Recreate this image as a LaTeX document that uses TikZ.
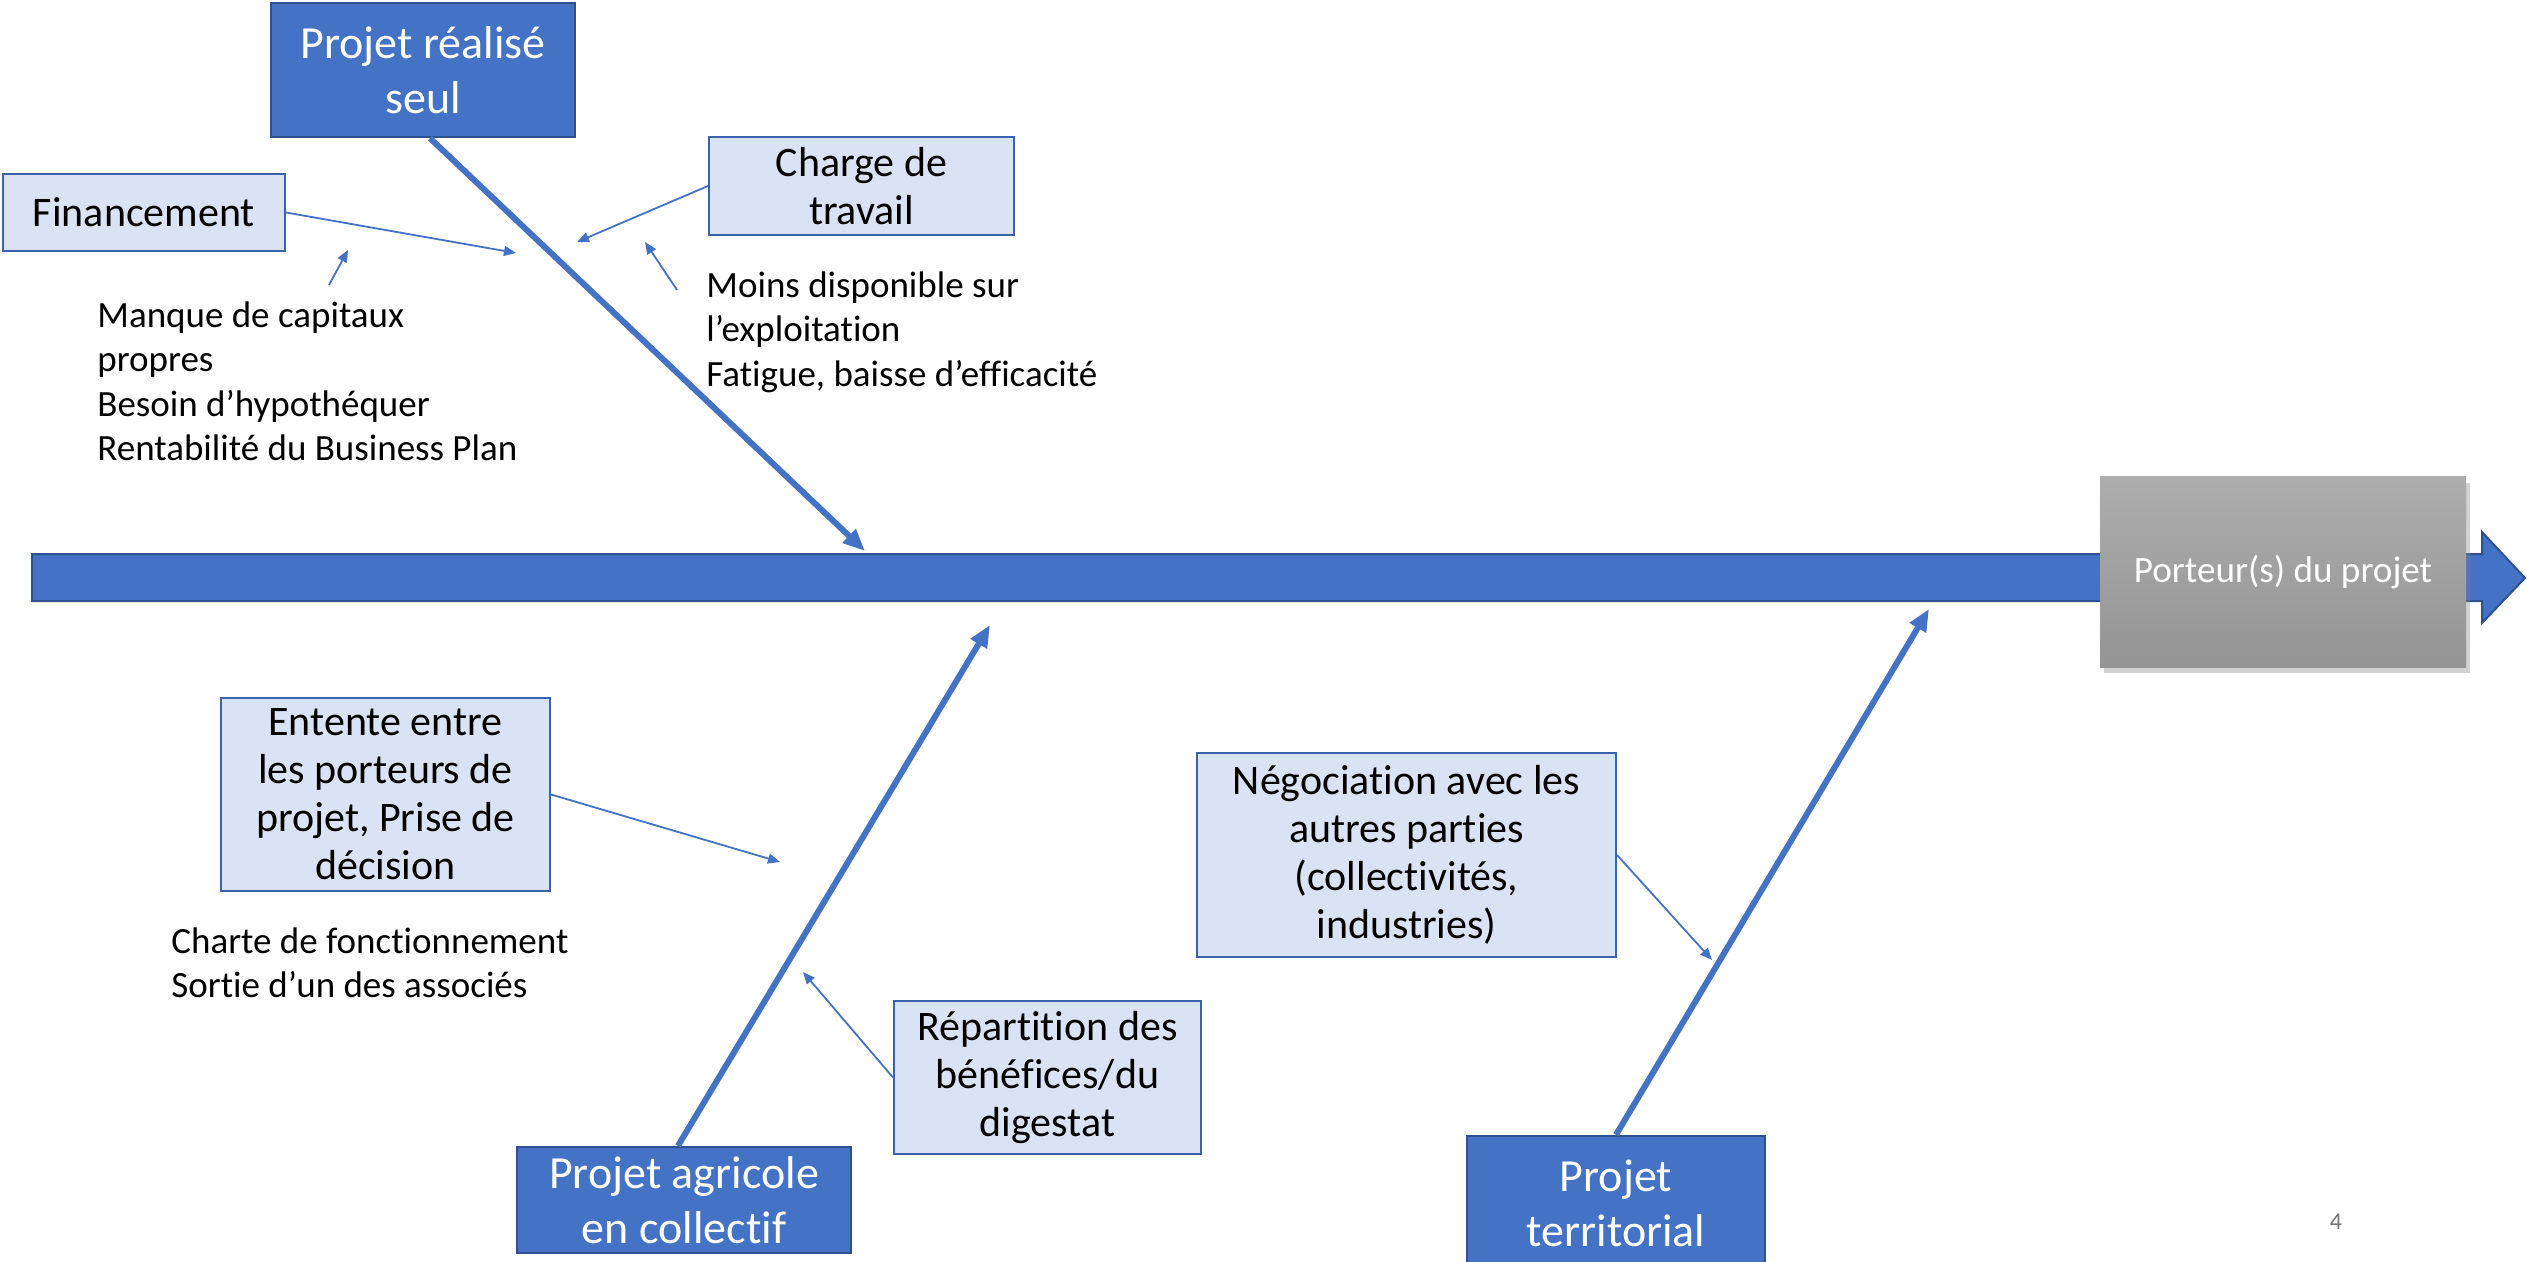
\documentclass[tikz,border=0pt]{standalone}
\usepackage{fontspec}
\setmainfont{Carlito}[Ligatures=NoCommon]
\usetikzlibrary{arrows.meta,shadows,calc}
\definecolor{mblue}{HTML}{4472C4}
\definecolor{dblue}{HTML}{2F528F}
\definecolor{lblue}{HTML}{DAE3F3}
\definecolor{lborder}{HTML}{3A62AE}
\begin{document}
\begin{tikzpicture}[x=0.5pt,y=-0.5pt,
  cause/.style={draw=dblue, line width=1.2pt, fill=mblue, text=white, font=\fontsize{23}{27.5}\selectfont, align=center, inner sep=0pt},
  sub/.style={draw=lborder, line width=1pt, fill=lblue, text=black, font=\fontsize{21}{24}\selectfont, align=center, inner sep=0pt},
  note/.style={font=\fontsize{18.5}{22.3}\selectfont, align=left, inner sep=0pt, anchor=north west},
  bone/.style={draw=mblue, line width=3pt, -{Triangle[length=11pt,width=9pt]}},
  twig/.style={draw=mblue, line width=0.9pt, -{Triangle[length=6pt,width=5pt]}}]
\clip (0,0) rectangle (2527,1262);
\fill[white] (0,0) rectangle (2527,1262);

% spine
\filldraw[fill=mblue, draw=dblue, line width=1pt]
  (32,554) -- (2482,554) -- (2482,532) -- (2525,578) -- (2482,623) -- (2482,601) -- (32,601) -- cycle;

% effect box
\node[shading=axis, top color=black!32, bottom color=black!42, draw=none,
      drop shadow={opacity=0.35, shadow xshift=2pt, shadow yshift=-3pt},
      minimum width=183pt, minimum height=95pt, inner sep=0pt,
      text=white, font=\fontsize{18.6}{22}\selectfont] (eff) at (2283,572) {Porteur(s) du projet};

% main causes
\node[cause, minimum width=152pt, minimum height=67pt] (seul) at (423,70) {Projet réalisé\\seul};
\node[cause, minimum width=167pt, minimum height=53pt] (agri) at (684,1200) {Projet agricole\\en collectif};
\node[cause, minimum width=149pt, minimum height=67pt] (terr) at (1616,1203) {Projet\\territorial};

% sub causes
\node[sub, minimum width=141pt, minimum height=38.5pt] (fin) at (144,212.5) {Financement};
\node[sub, minimum width=152.5pt, minimum height=49pt] (charge) at (861.5,186) {Charge de\\travail};
\node[sub, minimum width=164.5pt, minimum height=96.5pt] (entente) at (385.5,794.5) {Entente entre\\les porteurs de\\projet, Prise de\\décision};
\node[sub, minimum width=153.5pt, minimum height=76.5pt] (repart) at (1047.5,1077.5) {Répartition des\\bénéfices/du\\digestat};
\node[sub, minimum width=209.5pt, minimum height=102pt] (nego) at (1406.5,855) {Négociation avec les\\autres parties\\(collectivités,\\industries)};

% notes
\node[note] (n1) at (97,301) {Manque de capitaux\\propres\\Besoin d’hypothéquer\\Rentabilité du Business Plan};
\node[note] (n2) at (706,271) {Moins disponible sur\\l’exploitation\\Fatigue, baisse d’efficacité};
\node[note] (n3) at (171,927) {Charte de fonctionnement\\Sortie d’un des associés};
\node[text=black!55, font=\fontsize{12}{14}\selectfont, inner sep=0pt] (pg) at (2336,1222) {4};

% coordinates
\coordinate (e1) at (865,551);
\coordinate (e2) at (990,625);
\coordinate (e3) at (1929,609);
\coordinate (tfin) at (516,253);
\coordinate (tcharge) at (577,242);
\coordinate (tent) at (780,862);
\coordinate (trep) at (803,972);
\coordinate (tnego) at (1712,960);
\coordinate (s1) at (329,285);
\coordinate (t1) at (348,250);
\coordinate (s2) at (677,290);
\coordinate (t2) at (645,242);

% bones
\draw[bone] ($(seul.south)+(7,0)$) -- (e1);
\draw[bone] ($(agri.north)+(-6,0)$) -- (e2);
\draw[bone] (terr.north) -- (e3);

% twigs
\draw[twig] (fin.east) -- (tfin);
\draw[twig] (charge.west) -- (tcharge);
\draw[twig] (entente.east) -- (tent);
\draw[twig] (repart.west) -- (trep);
\draw[twig] (nego.east) -- (tnego);
\draw[twig] (s1) -- (t1);
\draw[twig] (s2) -- (t2);
\end{tikzpicture}
\end{document}
